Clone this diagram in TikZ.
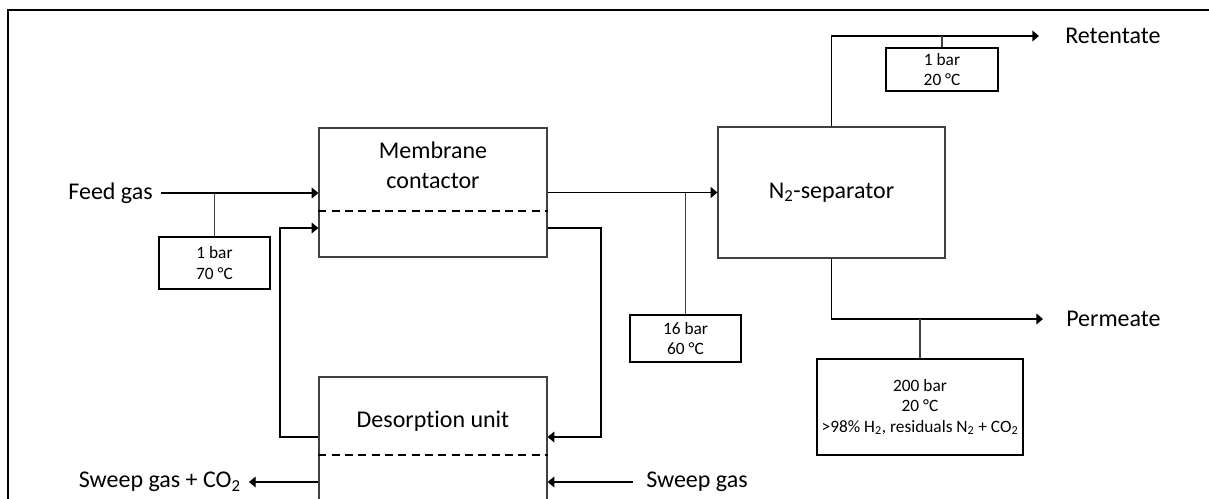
\documentclass[tikz,border=0pt]{standalone}
\usepackage{fontspec}
\setmainfont{Carlito}[Ligatures=NoCommon]
\usetikzlibrary{arrows.meta}

\begin{document}
\begin{tikzpicture}[x=0.75pt, y=-0.75pt,
	unit/.style={draw=black!75, line width=0.9pt, inner sep=0pt, align=center, font=\fontsize{18}{22.5}\selectfont},
	cond/.style={draw=black, line width=1pt, inner sep=0pt, align=center, font=\fontsize{13}{15.5}\selectfont},
	lbl/.style={inner sep=0pt, align=center, font=\fontsize{18}{22.5}\selectfont},
	flow/.style={line width=1pt, -{Triangle[length=5pt,width=8pt]}},
	tap/.style={line width=0.9pt, draw=black!75},
	membrane/.style={line width=0.9pt, dash pattern=on 6pt off 4pt}]
	\useasboundingbox (0,0) rectangle (1209,499);
	\clip (0,0) rectangle (1209,499);
	\draw[line width=1.7pt] (8,10) rectangle (1230,520);

	% units
	\node[unit, minimum width=171pt, minimum height=96.75pt] (mc) at (433,192.5) {};
	\node[lbl] (mctxt) at (433,165) {Membrane\\contactor};
	\draw[membrane] (mc.west |- 0,211) -- (mc.east |- 0,211);
	\node[unit, minimum width=170.25pt, minimum height=98.25pt] (sep) at (831.5,192.5) {N\textsubscript{2}-separator};
	\node[unit, minimum width=171pt, minimum height=99.75pt] (des) at (433,443.5) {};
	\node[lbl] (destxt) at (433,421) {Desorption unit};
	\draw[membrane] (des.west |- 0,455) -- (des.east |- 0,455);

	% conditions
	\node[cond, minimum width=83.25pt, minimum height=39pt] (c1) at (214.5,263) {1 bar\\70 °C};
	\node[cond, minimum width=83.25pt, minimum height=35.25pt] (c2) at (685.5,338.5) {16 bar\\60 °C};
	\node[cond, minimum width=84pt, minimum height=32.25pt] (c3) at (942,69.5) {1 bar\\20 °C};
	\node[cond, minimum width=154.5pt, minimum height=72pt] (c4) at (920,407) {200 bar\\20 °C\\>98\% H\textsubscript{2}, residuals N\textsubscript{2} + CO\textsubscript{2}};

	% stream labels
	\node[lbl, anchor=east] (feed) at (153,193) {Feed gas};
	\node[lbl, anchor=west] (ret) at (1065,36) {Retentate};
	\node[lbl, anchor=west] (perm) at (1066,319) {Permeate};
	\node[lbl, anchor=east] (sweepout) at (241,482) {Sweep gas + CO\textsubscript{2}};
	\node[lbl, anchor=west] (sweepin) at (646,482) {Sweep gas};

	\coordinate (feedin) at (161,193);
	\coordinate (retout) at (1039,36);
	\coordinate (permout) at (1043,319);
	\coordinate (sweepend) at (249,482);
	\coordinate (sweepstart) at (633,482);

	% streams
	\draw[flow] (feedin) -- (feedin -| mc.west);
	\draw[tap] (c1.north) -- (c1.north |- feedin);
	\draw[flow] (des.west |- 0,437) -| (280,228) -- (mc.west |- 0,228);
	\draw[flow] (mc.east |- 0,228) -| (601,437) -- (des.east |- 0,437);
	\draw[flow] (mc.east |- sep.west) -- (sep.west);
	\draw[tap] (c2.north) -- (c2.north |- sep.west);
	\draw[flow] (sep.north) |- (retout);
	\draw[tap] (c3.north) -- (c3.north |- retout);
	\draw[flow] (sep.south) |- (permout);
	\draw[tap] (c4.north) -- (c4.north |- permout);
	\draw[flow] (des.west |- sweepend) -- (sweepend);
	\draw[flow] (sweepstart) -- (des.east |- sweepstart);
\end{tikzpicture}
\end{document}
